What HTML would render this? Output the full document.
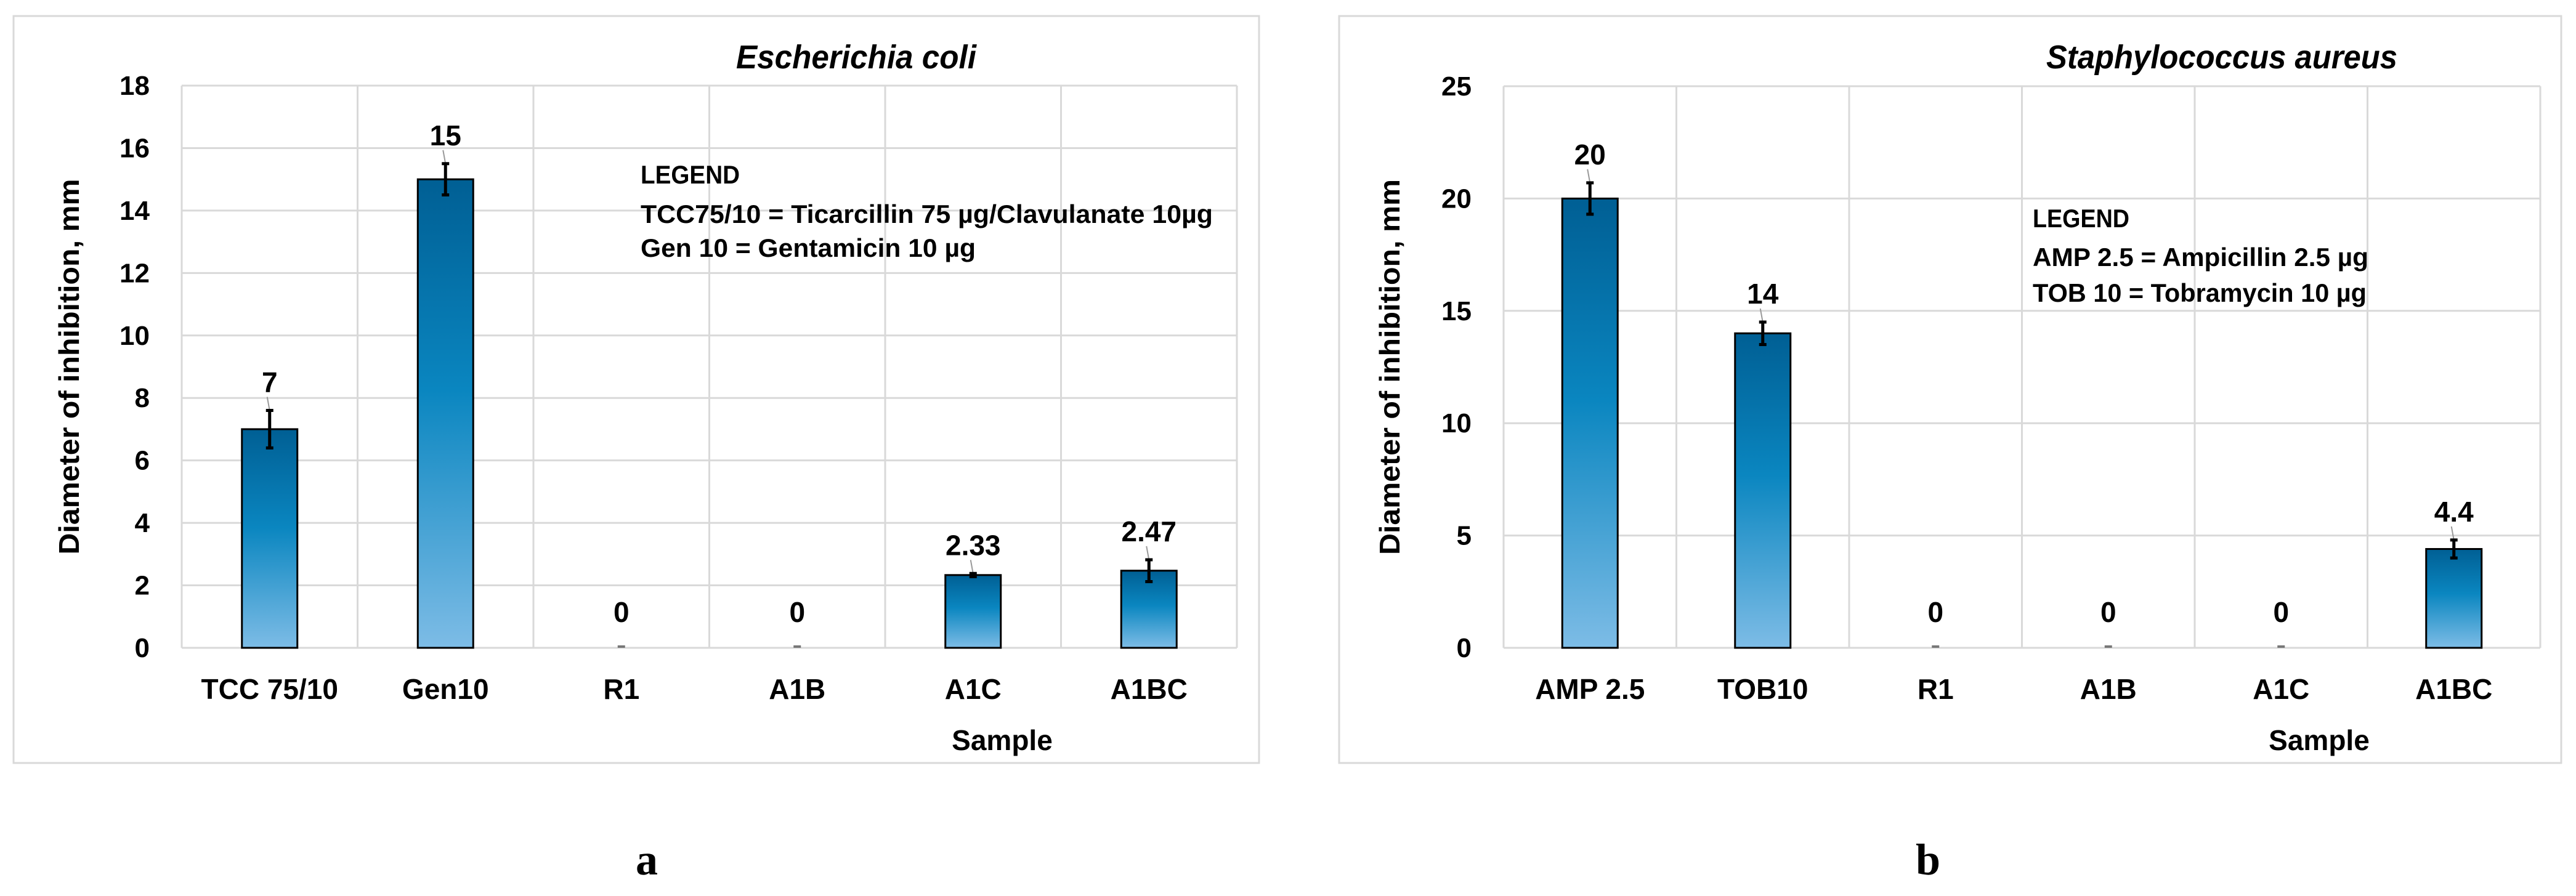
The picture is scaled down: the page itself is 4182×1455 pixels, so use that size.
<!DOCTYPE html>
<html><head><meta charset="utf-8"><style>
html,body{margin:0;padding:0;background:#fff;}
svg{display:block;}
text{font-family:"Liberation Sans Narrow","Liberation Sans",sans-serif;font-weight:bold;fill:#000;}
</style></head>
<body>
<svg id="fig" width="4182" height="1455" viewBox="0 0 4182 1455" xmlns="http://www.w3.org/2000/svg">
<defs>
<linearGradient id="barGrad" x1="0" y1="0" x2="0" y2="1">
<stop offset="0" stop-color="#005f94"/>
<stop offset="0.45" stop-color="#0a86c0"/>
<stop offset="1" stop-color="#7dbce6"/>
</linearGradient>
</defs>
<rect x="0" y="0" width="4182" height="1455" fill="#fff"/>
<g id="chartA"></g>
<g id="chartB"></g>
<text x="1050" y="1420" font-size="72" text-anchor="middle" style="font-family:'Liberation Serif',serif">a</text>
<text x="3130" y="1420" font-size="72" text-anchor="middle" style="font-family:'Liberation Serif',serif">b</text>
</svg>
<script>
const catsA = ["TCC 75/10", "Gen10", "R1", "A1B", "A1C", "A1BC"];
const valsA = [7, 15, 0, 0, 2.33, 2.47];
const errA = [0.6, 0.5, 0, 0, 0.05, 0.35];
const labelsA = ["7", "15", "0", "0", "2.33", "2.47"];
const ticksA = [0, 2, 4, 6, 8, 10, 12, 14, 16, 18];

const catsB = ["AMP 2.5", "TOB10", "R1", "A1B", "A1C", "A1BC"];
const valsB = [20, 14, 0, 0, 0, 4.4];
const errB = [0.7, 0.5, 0, 0, 0, 0.4];
const labelsB = ["20", "14", "0", "0", "0", "4.4"];
const ticksB = [0, 5, 10, 15, 20, 25];

const NS = "http://www.w3.org/2000/svg";
function mk(parent, tag, attrs, txt) {
  const e = document.createElementNS(NS, tag);
  for (const k in attrs) e.setAttribute(k, attrs[k]);
  if (txt !== undefined) e.textContent = txt;
  parent.appendChild(e);
  return e;
}

function drawChart(g, cfg, cats, vals, errs, labels, ticks) {
  const yMax = ticks[ticks.length - 1];
  const yS = v => cfg.bottom - (v / yMax) * (cfg.bottom - cfg.top);
  const cw = (cfg.right - cfg.left) / cats.length;
  const xC = i => cfg.left + cw * (i + 0.5);

  const panel = mk(g, "rect", {x: cfg.px, y: 26, width: cfg.pw, height: 1213, fill: "#fff", stroke: "#d9d9d9", "stroke-width": 3});
  
  

  const title = mk(g, "text", {x: cfg.titleX, y: 111, "font-size": 54, "font-style": "italic", textLength: cfg.titleW, lengthAdjust: "spacingAndGlyphs"}, cfg.title);
  
  

  ticks.forEach(t => {
    const gl = mk(g, "line", {x1: cfg.left, x2: cfg.right, y1: yS(t), y2: yS(t), stroke: "#d9d9d9", "stroke-width": 3});
    
    
    const tl = mk(g, "text", {x: cfg.tickX, y: yS(t) + 15, "font-size": 44, "text-anchor": "end"}, String(t));
    
    
  });
  for (let i = 0; i <= cats.length; i++) {
    const x = cfg.left + cw * i;
    const vl = mk(g, "line", {x1: x, x2: x, y1: cfg.top, y2: cfg.bottom, stroke: "#d9d9d9", "stroke-width": 3});
    
    
  }

  const yt = mk(g, "text", {x: 0, y: 0, "font-size": 46, "text-anchor": "middle", transform: `translate(${cfg.yTitleX},${(cfg.top + cfg.bottom) / 2 + 0}) rotate(-90)`, textLength: 610, lengthAdjust: "spacingAndGlyphs"}, "Diameter of inhibition, mm");
  
  

  const bw = 90;
  cats.forEach((c, i) => {
    const v = vals[i], e = errs[i], x = xC(i);
    if (v > 0) {
      const b = mk(g, "rect", {x: x - bw / 2, y: yS(v), width: bw, height: yS(0) - yS(v), fill: "url(#barGrad)", stroke: "#000", "stroke-width": 3});
      
      
      const top = yS(v + e), bot = yS(v - e);
      const ll = mk(g, "line", {x1: x, x2: x - 4, y1: top, y2: top - 22, stroke: "#999", "stroke-width": 2});
      
      
      const eb = mk(g, "path", {d: `M${x} ${top}V${bot}M${x - 6} ${top}H${x + 6}M${x - 6} ${bot}H${x + 6}`, stroke: "#000", "stroke-width": 5, fill: "none"});
      
      
      const lb = mk(g, "text", {x: x, y: top - 30, "font-size": 46, "text-anchor": "middle"}, labels[i]);
      
      
    } else {
      const d = mk(g, "line", {x1: x - 6, x2: x + 6, y1: yS(0) - 2, y2: yS(0) - 2, stroke: "#777", "stroke-width": 4});
      
      
      const lb = mk(g, "text", {x: x, y: yS(0) - 42, "font-size": 46, "text-anchor": "middle"}, labels[i]);
      
      
    }
    const cl = mk(g, "text", {x: x, y: 1135, "font-size": 46, "text-anchor": "middle"}, c);
    
    
  });

  const xt = mk(g, "text", {x: cfg.sampleX, y: 1218, "font-size": 46, "text-anchor": "middle"}, "Sample");
  
  

  cfg.legend.forEach((ln, k) => {
    const t = mk(g, "text", {x: cfg.legX, y: cfg.legY[k], "font-size": 42, textLength: cfg.legW[k], lengthAdjust: "spacingAndGlyphs"}, ln);
    
    
  });
}

drawChart(document.getElementById("chartA"), {
  px: 22, pw: 2022, left: 295, right: 2008, top: 139, bottom: 1052,
  title: "Escherichia coli", titleX: 1195, titleW: 390,
  tickX: 243, yTitleX: 128, sampleX: 1627,
  legend: ["LEGEND", "TCC75/10 = Ticarcillin 75 µg/Clavulanate 10µg", "Gen 10 = Gentamicin 10 µg"],
  legX: 1040, legY: [298, 362, 417], legW: [161, 929, 544]
}, catsA, valsA, errA, labelsA, ticksA);

drawChart(document.getElementById("chartB"), {
  px: 2174, pw: 1984, left: 2441, right: 4124, top: 140, bottom: 1052,
  title: "Staphylococcus aureus", titleX: 3322, titleW: 570,
  tickX: 2389, yTitleX: 2272, sampleX: 3765,
  legend: ["LEGEND", "AMP 2.5 = Ampicillin 2.5 µg", "TOB 10 = Tobramycin 10 µg"],
  legX: 3300, legY: [369, 432, 490], legW: [157, 545, 542]
}, catsB, valsB, errB, labelsB, ticksB);
</script>
</body></html>
